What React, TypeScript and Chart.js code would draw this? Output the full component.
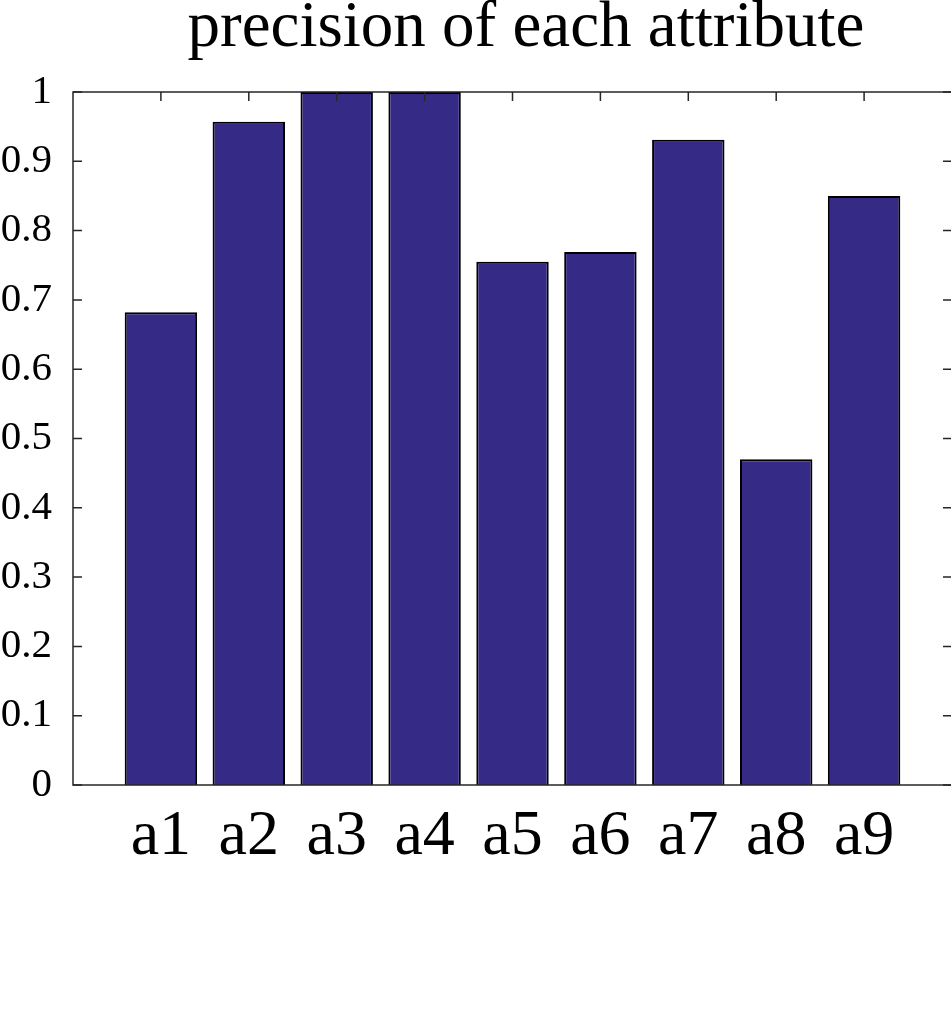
import React, { useEffect, useRef } from 'react';
import { Chart, registerables } from 'chart.js';

Chart.register(...registerables);

// ---- data ----
const categories = ['a1', 'a2', 'a3', 'a4', 'a5', 'a6', 'a7', 'a8', 'a9'];
const precision = [0.682, 0.957, 1.0, 1.0, 0.755, 0.769, 0.931, 0.47, 0.85];
const titleText = 'precision of each attribute';
const yMin = 0;
const yMax = 1;
const yStep = 0.1;

const FONT = "'Liberation Serif', 'Times New Roman', serif";
const BAR_COLOR = '#352b86';
const AXIS_COLOR = '#262626';

const framePlugin = {
  id: 'matlabFrame',
  afterDatasetsDraw(chart: any) {
    const { ctx, chartArea: a, scales } = chart;
    const x = scales.x;
    const y = scales.y;
    ctx.save();
    ctx.strokeStyle = AXIS_COLOR;
    ctx.lineWidth = 1.5;
    ctx.strokeRect(a.left, a.top, a.right - a.left, a.bottom - a.top);
    const tickLen = 9;
    ctx.beginPath();
    y.ticks.forEach((t: any) => {
      const py = y.getPixelForValue(t.value);
      ctx.moveTo(a.left, py);
      ctx.lineTo(a.left + tickLen, py);
      ctx.moveTo(a.right, py);
      ctx.lineTo(a.right - tickLen, py);
    });
    categories.forEach((_, i) => {
      const px = x.getPixelForValue(i + 1);
      ctx.moveTo(px, a.top);
      ctx.lineTo(px, a.top + tickLen);
    });
    ctx.stroke();
    // title
    ctx.fillStyle = '#000';
    ctx.font = `65px ${FONT}`;
    ctx.textAlign = 'center';
    ctx.textBaseline = 'alphabetic';
    ctx.fillText(titleText, 526, 46);
    ctx.restore();
  },
};

export default function App() {
  const canvasRef = useRef<HTMLCanvasElement | null>(null);

  useEffect(() => {
    const canvas = canvasRef.current;
    if (!canvas) return;
    const chart = new Chart(canvas, {
      type: 'bar',
      data: {
        datasets: [
          {
            label: 'precision',
            data: precision.map((v, i) => ({ x: i + 1, y: v })),
            backgroundColor: BAR_COLOR,
            borderColor: '#000000',
            borderWidth: 2,
            barPercentage: 0.824,
            categoryPercentage: 1,
          },
        ],
      },
      options: {
        responsive: false,
        animation: false,
        layout: { padding: { top: 92, right: 1, left: 0, bottom: 0 } },
        plugins: {
          legend: { display: false },
          title: { display: false },
          tooltip: { enabled: false },
        },
        scales: {
          x: {
            type: 'linear',
            offset: false,
            min: 0,
            max: categories.length + 1,
            grid: { display: false, drawTicks: false, offset: false },
            border: { display: false },
            afterFit(scale: any) {
              scale.height = 244;
              scale.paddingLeft = 0;
              scale.paddingRight = 0;
            },
            ticks: {
              stepSize: 1,
              autoSkip: false,
              maxRotation: 0,
              padding: 14,
              color: '#000',
              font: { family: FONT, size: 64 },
              callback: (value: any) => {
                const idx = Number(value) - 1;
                return idx >= 0 && idx < categories.length ? categories[idx] : '';
              },
            },
          },
          y: {
            type: 'linear',
            min: yMin,
            max: yMax,
            grid: { display: false, drawTicks: false },
            border: { display: false },
            afterFit(scale: any) {
              scale.width = 73;
            },
            ticks: {
              stepSize: yStep,
              padding: 21,
              color: '#000',
              font: { family: FONT, size: 41 },
              callback: (value: any) => String(Number(Number(value).toFixed(1))),
            },
          },
        },
      },
      plugins: [framePlugin],
    });
    return () => chart.destroy();
  }, []);

  return (
    <div
      style={{
        position: 'absolute',
        left: 0,
        top: 0,
        width: 951,
        height: 1029,
        overflow: 'hidden',
        background: '#fff',
      }}
    >
      <canvas ref={canvasRef} width={953} height={1029} style={{ display: 'block' }} />
    </div>
  );
}
